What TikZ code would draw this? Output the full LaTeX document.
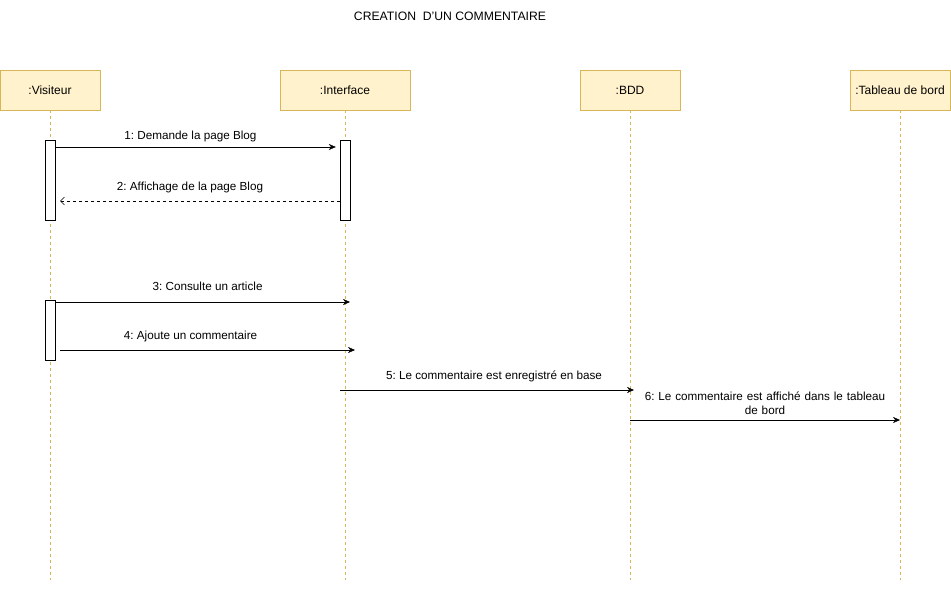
\documentclass[tikz,border=0pt]{standalone}
\usepackage{fontspec}
\setmainfont{Liberation Sans}
\frenchspacing
\usetikzlibrary{arrows.meta,positioning,calc}
\definecolor{headfill}{HTML}{FFF2CC}
\definecolor{headline}{HTML}{D6B656}
\tikzset{
	head/.style={draw=headline,fill=headfill,align=center,font=\fontsize{12}{14}\selectfont,minimum height=40pt,minimum width=100pt,inner sep=2pt},
	life/.style={draw=headline,dashed,dash pattern=on 3pt off 3pt},
	act/.style={draw,fill=white,minimum width=10pt,minimum height=80pt,inner sep=0pt},
	msg/.style={-{Stealth[length=7pt,width=6pt]}},
	reply/.style={dashed,dash pattern=on 3pt off 3pt,-{Straight Barb[length=4pt,width=8pt]}},
	lbl/.style={font=\fontsize{11.7}{14}\selectfont,above=7pt,inner sep=1pt,align=center}
}
\begin{document}
\begin{tikzpicture}[x=1pt,y=-1pt]
		\useasboundingbox (0,0) rectangle (951,591);
		\node[font=\fontsize{12.2}{14}\selectfont] (title) at (450,16) {CREATION\ \ D'UN COMMENTAIRE};
		% lifeline heads
		\node[head] (vis) at (50,90) {:Visiteur};
		\node[head,minimum width=130pt] (int) at (345,90) {:Interface};
		\node[head] (bdd) at (630,90) {:BDD};
		\node[head] (tab) at (900,90) {:Tableau de bord};
		\foreach \n in {vis,int,bdd,tab}\draw[life](\n.south)--++(0,470);
		% activations
		\node[act] (a1) at (50,180) {};
		\node[act] (a2) at (345,180) {};
		\node[act,minimum height=60pt] (a3) at (50,330) {};
		% messages
		\draw[msg] (a1.east |- 0,147) -- node[lbl,above=4pt,xshift=-5pt] {1: Demande la page Blog} ([xshift=-4pt]a2.west |- 0,147);
		\draw[reply] (a2.west |- 0,201) -- node[lbl,xshift=-10pt] {2: Affichage de la page Blog} ([xshift=5pt]a1.east |- 0,201);
		\draw[msg] (a3.east |- 0,302) -- node[lbl,above=10pt,xshift=5pt] {3: Consulte un article} ([xshift=5pt]int.south |- 0,302);
		\draw[msg] ([xshift=5pt]a3.east |- 0,350) -- node[lbl,xshift=-17pt] {4: Ajoute un commentaire} ([xshift=10pt]int.south |- 0,350);
		\draw[msg] ([xshift=-5pt]int.south |- 0,390) -- node[lbl,xshift=7pt] {5: Le commentaire est enregistré en base} ([xshift=4pt]bdd.south |- 0,390);
		\draw[msg] (bdd.south |- 0,420) -- node[lbl,above=4pt,text width=260pt] {6: Le commentaire est affiché dans le tableau\\de bord} (tab.south |- 0,420);
	\end{tikzpicture}
\end{document}
